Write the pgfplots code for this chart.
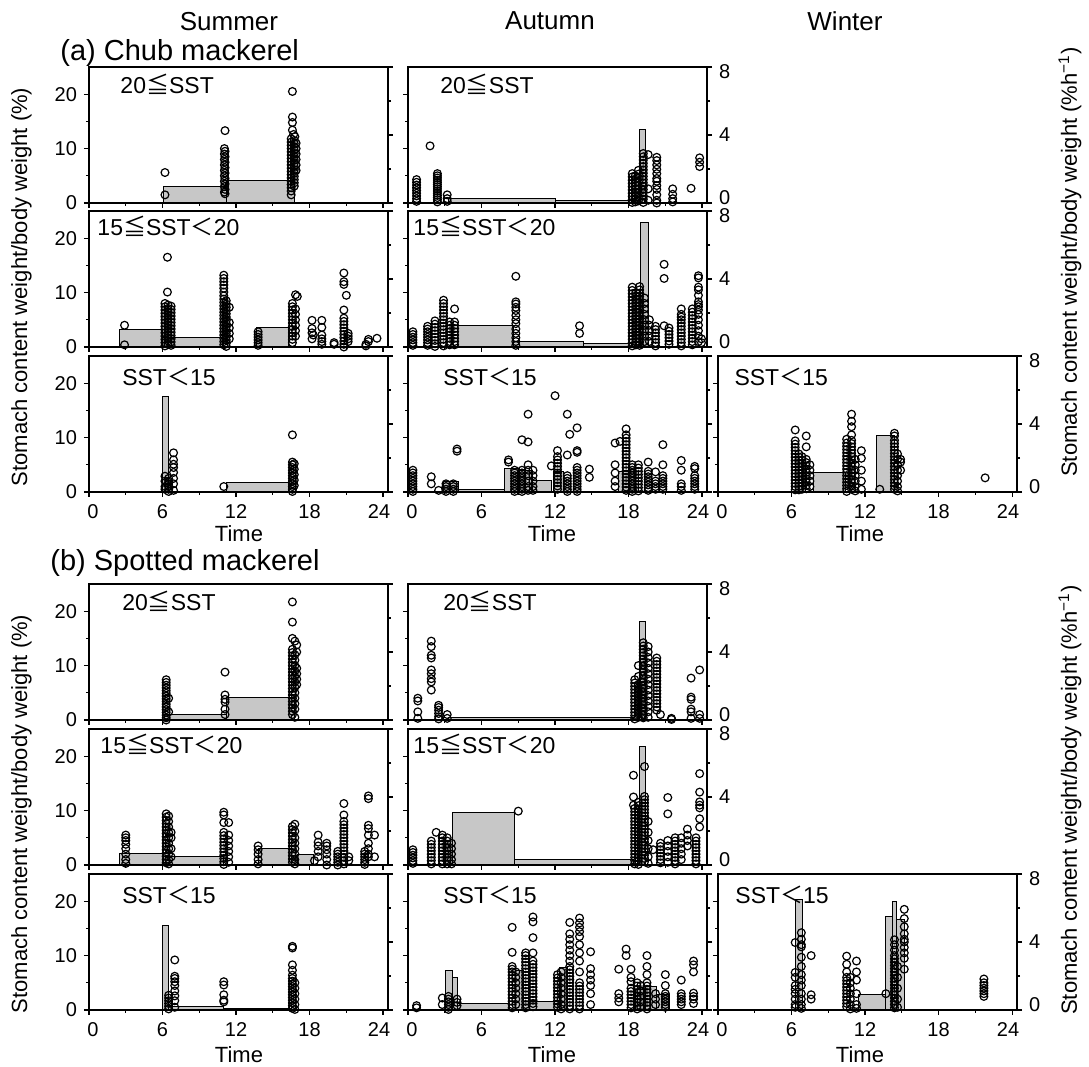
\documentclass[border=0pt]{standalone}
\usepackage{fontspec}
\setmainfont{Liberation Sans}
\newfontfamily\cjk{Noto Sans CJK JP}
\usepackage{pgfplots}
\pgfplotsset{compat=1.18}
\newcommand{\LE}{{\cjk ≦}}
\newcommand{\LT}{{\cjk ＜}}
\newcommand{\bbar}[3]{\addplot[barst] coordinates {(#1,0) (#1,#3) (#2,#3) (#2,0)} \closedcycle;}
\tikzset{plab/.style={anchor=west, font=\fontsize{11.5}{13}\selectfont, inner sep=0pt}}
\pgfplotsset{
  base/.style={anchor=south west, width=149.5pt, height=68pt, scale only axis,
    xmin=0, xmax=24.4, tick align=outside, major tick length=2.5pt, minor tick length=1.5pt,
    axis line style={line width=0.8pt}, every tick/.append style={line width=0.6pt, black},
    tick label style={font=\fontsize{10}{12}\selectfont},
    /pgf/number format/assume math mode=true,
    xtick={0,6,12,18,24}, minor xtick={3,9,15,21}},
  lax/.style={base, ymin=0, ymax=25, ytick={0,10,20}, minor ytick={5,15},
    xtick pos=left, ytick pos=left, clip=false, xticklabels={}, yticklabels={}},
  rax/.style={base, ymin=0, ymax=8, ytick={0,4,8}, minor ytick={2,6},
    hide x axis, axis y line*=right, yticklabels={}},
  pts/.style={only marks, mark=o, mark size=1.95pt, mark options={line width=0.6pt, black, solid}},
  barst/.style={draw=black, line width=0.5pt, fill=black!22},
  xl/.style={xticklabels={\hspace*{4pt}0,6,12,18,24\hspace*{4pt}}},
  yl/.style={yticklabels={0,10,20}},
  rl/.style={yticklabels={\raisebox{2.5pt}[\height][\depth]{0},4,\raisebox{-2.5pt}[\height][\depth]{8}}},
}
\begin{document}
\begin{tikzpicture}
\useasboundingbox (0,0) rectangle (544.5pt,533.5pt);
% ===== titles =====
\node[font=\fontsize{13}{15}\selectfont] at (114.5pt,522.5pt) {Summer};
\node[font=\fontsize{13}{15}\selectfont] at (275pt,523pt) {Autumn};
\node[font=\fontsize{13}{15}\selectfont] at (422.5pt,523pt) {Winter};
\node[anchor=west, inner sep=0pt, font=\fontsize{14.5}{17}\selectfont] at (30pt,507pt) {(a) Chub mackerel};
\node[anchor=west, inner sep=0pt, font=\fontsize{14.5}{17}\selectfont] at (25pt,252pt) {(b) Spotted mackerel};
\node[rotate=90, font=\fontsize{11}{13}\selectfont] at (10.75pt,390pt) {Stomach content weight/body weight (\%)};
\node[rotate=90, font=\fontsize{11}{13}\selectfont] at (10.75pt,126.5pt) {Stomach content weight/body weight (\%)};
\node[rotate=90, font=\fontsize{11}{13}\selectfont] at (535pt,402.5pt) {Stomach content weight/body weight (\%h\textsuperscript{−1})};
\node[rotate=90, font=\fontsize{11}{13}\selectfont] at (535pt,133.5pt) {Stomach content weight/body weight (\%h\textsuperscript{−1})};
\foreach \xx in {119.5pt,276pt,430pt}{
  \node[font=\fontsize{11}{13}\selectfont] at (\xx,266.5pt) {Time};
  \node[font=\fontsize{11}{13}\selectfont] at (\xx,6pt) {Time};
}

% ===================== (a) row 1 summer =====================
\begin{axis}[rax, at={(44.5pt,432pt)}]
\bbar{6.07}{11.24}{0.98} \bbar{11.24}{16.8}{1.31}
\end{axis}
\begin{axis}[lax, yl, at={(44.5pt,432pt)}]
\addplot[pts] coordinates {(6.2,5.6)(6.2,1.5)
(11.1,13.3)(11.05,10.0)(11.1,9.5)(11.05,9.0)(11.1,8.5)(11.05,8.0)(11.1,7.5)(11.05,7.0)(11.1,6.5)(11.05,6.0)(11.1,5.5)(11.05,5.0)(11.1,4.5)(11.05,4.0)(11.1,3.5)(11.05,3.0)(11.1,2.5)(11.05,2.0)(11.1,1.7)
(16.6,20.5)(16.6,15.8)(16.6,14.8)(16.6,13.4)(16.7,12.6)(16.8,12.2)
(16.5,11.8)(16.5,11.2)(16.5,10.6)(16.5,10.0)(16.5,9.4)(16.5,8.8)(16.5,8.2)(16.5,7.6)(16.5,7.0)(16.5,6.4)(16.5,5.8)(16.5,5.2)(16.5,4.6)(16.5,4.0)(16.5,3.4)(16.5,2.8)(16.5,2.2)(16.5,1.5)
(16.75,11.5)(16.75,10.9)(16.75,10.3)(16.75,9.7)(16.75,9.1)(16.75,8.5)(16.75,7.9)(16.75,7.3)(16.75,6.7)(16.75,6.1)(16.75,5.5)(16.75,4.9)(16.75,4.3)(16.75,3.7)(16.75,3.1)
(16.9,11.0)(16.9,10.0)(16.9,9.0)(16.9,8.0)(16.9,7.0)(16.9,6.0)};
\node[plab] at (rel axis cs:0.104,0.87) {20\LE SST};
\end{axis}

% ===================== (a) row 1 autumn =====================
\begin{axis}[rax, rl, at={(204pt,432pt)}]
\bbar{3.3}{12.0}{0.25} \bbar{12.0}{18.9}{0.15} \bbar{18.9}{19.4}{4.3}
\end{axis}
\begin{axis}[lax, at={(204pt,432pt)}]
\addplot[pts] coordinates {(0.7,4.3)(0.7,3.8)(0.7,3.3)(0.7,2.8)(0.7,2.3)(0.7,1.8)(0.7,1.3)(0.7,0.8)(0.7,0.3)
(1.8,10.5)
(2.4,5.4)(2.4,5.0)(2.4,4.6)(2.4,4.2)(2.4,3.8)(2.4,3.4)(2.4,3.0)(2.4,2.6)(2.4,2.2)(2.4,1.8)(2.4,1.4)(2.4,1.0)(2.4,0.6)(2.4,0.2)
(3.2,1.5)(3.2,0.8)(3.2,0.3)
(18.3,5.4)(18.3,4.8)(18.3,4.2)(18.3,3.6)(18.3,3.0)(18.3,2.4)(18.3,1.8)(18.3,1.2)(18.3,0.6)(18.3,0.1)
(18.55,5.0)(18.55,4.4)(18.55,3.8)(18.55,3.2)(18.55,2.6)(18.55,2.0)(18.55,1.4)(18.55,0.8)(18.55,0.2)
(18.8,6.0)(18.8,5.3)(18.8,4.6)(18.8,3.9)(18.8,3.2)(18.8,2.5)(18.8,1.8)(18.8,1.1)(18.8,0.4)
(19.2,9.1)(19.2,8.5)(19.2,7.9)(19.2,7.3)(19.2,6.7)(19.2,6.1)(19.2,5.5)(19.2,4.9)(19.2,4.3)(19.2,3.7)(19.2,3.1)(19.2,2.5)(19.2,1.9)(19.2,1.3)(19.2,0.7)(19.2,0.1)
(19.6,8.9)(19.6,2.6)(19.6,0.5)
(20.3,8.4)(20.3,7.8)(20.3,7.0)(20.3,6.2)(20.3,5.4)(20.3,4.5)(20.3,4.0)(20.3,3.2)(20.3,2.5)(20.3,1.5)(20.3,0.5)(20.3,0)
(21.6,2.6)(21.6,1.6)(21.6,0.8)(21.6,0.2)
(23.1,2.7)
(23.8,8.3)(23.8,7.5)(23.8,6.7)};
\node[plab] at (rel axis cs:0.107,0.87) {20\LE SST};
\end{axis}

% ===================== (a) row 2 summer =====================
\begin{axis}[rax, at={(44.5pt,360pt)}]
\bbar{2.5}{6.0}{1.03} \bbar{6.0}{10.9}{0.57} \bbar{13.7}{16.3}{1.13}
\end{axis}
\begin{axis}[lax, yl, at={(44.5pt,360pt)}]
\addplot[pts] coordinates {(2.9,4.0)(2.9,0.4)
(6.4,16.5)(6.4,10.1)
(6.2,8.0)(6.2,7.4)(6.2,6.8)(6.2,6.2)(6.2,5.6)(6.2,5.0)(6.2,4.4)(6.2,3.8)(6.2,3.2)(6.2,2.6)(6.2,2.0)(6.2,1.4)(6.2,0.8)(6.2,0.2)
(6.45,7.7)(6.45,7.1)(6.45,6.5)(6.45,5.9)(6.45,5.3)(6.45,4.7)(6.45,4.1)(6.45,3.5)(6.45,2.9)(6.45,2.3)(6.45,1.7)(6.45,1.1)(6.45,0.5)
(6.7,7.5)(6.7,6.9)(6.7,6.3)(6.7,5.7)(6.7,5.1)(6.7,4.5)(6.7,3.9)(6.7,3.3)(6.7,2.7)(6.7,2.1)(6.7,1.5)(6.7,0.9)(6.7,0.3)
(11.0,13.2)(11.0,12.6)(11.0,12.0)(11.0,11.4)(11.0,10.8)(11.0,10.1)(11.0,9.4)(11.0,8.8)(11.0,8.2)(11.0,7.6)(11.0,7.0)(11.0,6.4)(11.0,5.8)(11.0,5.2)(11.0,4.6)(11.0,4.0)(11.0,3.4)(11.0,2.8)(11.0,2.2)(11.0,1.6)(11.0,1.0)(11.0,0.4)
(11.2,8.5)(11.2,7.9)(11.2,7.3)(11.2,6.7)(11.2,6.1)(11.2,5.5)(11.2,4.9)(11.2,4.3)(11.2,3.7)(11.2,3.1)(11.2,2.5)(11.2,1.9)(11.2,1.3)(11.2,0.7)(11.2,0.1)
(11.45,7.3)(11.45,4.5)(11.45,3.5)(11.45,2.5)(11.45,1.5)
(13.8,2.8)(13.8,2.3)(13.8,1.8)(13.8,1.3)(13.8,0.8)(13.8,0.3)
(16.6,8.0)(16.6,7.4)(16.6,6.8)(16.6,6.2)(16.6,5.6)(16.6,5.0)(16.6,4.4)(16.6,3.8)(16.6,3.2)(16.6,2.6)(16.6,2.0)(16.6,1.4)(16.6,0.8)
(16.85,9.6)(17.0,9.3)(16.85,7.0)(16.85,6.0)(16.85,5.0)(16.85,4.0)(16.85,3.0)(16.85,2.0)
(18.2,4.9)(18.2,3.4)(18.2,2.6)(18.3,2.2)(18.2,1.5)
(19.0,4.9)(19.0,3.6)(19.0,2.2)(19.0,1.5)(19.0,1.0)(19.0,0.5)
(20.0,0.8)(20.0,0.5)
(20.8,13.6)(20.8,12.0)(20.8,11.5)(20.8,6.8)(20.8,5.3)(20.8,4.7)(20.8,4.1)(20.8,3.5)(20.8,2.9)(20.8,2.3)(20.8,1.7)(20.8,1.1)(20.8,0.5)(20.8,0)
(21.0,9.5)
(21.15,2.5)(21.15,2.0)(21.15,1.5)(21.15,1.0)
(22.6,0.5)(22.6,0.2)(22.8,1.4)(22.8,1.0)(23.5,1.6)};
\node[plab] at (rel axis cs:0.027,0.89) {15\LE SST\LT 20};
\end{axis}

% ===================== (a) row 2 autumn =====================
\begin{axis}[rax, rl, at={(204pt,360pt)}]
\bbar{4.0}{8.6}{1.28} \bbar{8.6}{14.3}{0.32} \bbar{14.3}{18.2}{0.2} \bbar{19.0}{19.6}{7.3}
\end{axis}
\begin{axis}[lax, at={(204pt,360pt)}]
\addplot[pts] coordinates {(0.4,2.8)(0.4,2.3)(0.4,1.8)(0.4,1.3)(0.4,0.8)(0.4,0.3)
(1.6,3.8)(1.6,3.3)(1.6,2.8)(1.6,2.3)(1.6,1.8)(1.6,1.3)(1.6,0.8)(1.6,0.3)
(2.2,4.8)(2.2,4.2)(2.2,3.6)(2.2,3.0)(2.2,2.4)(2.2,1.8)(2.2,1.2)(2.2,0.6)(2.2,0.1)
(2.9,8.6)(2.9,8.0)(2.9,7.4)(2.9,6.8)(2.9,6.2)(2.9,5.6)(2.9,5.0)(2.9,4.4)(2.9,3.8)(2.9,3.2)(2.9,2.6)(2.9,2.0)(2.9,1.4)(2.9,0.8)(2.9,0.2)
(3.4,4.6)(3.4,4.0)(3.4,3.4)(3.4,2.8)(3.4,2.2)(3.4,1.6)(3.4,1.0)(3.4,0.4)
(3.8,7.0)(3.8,4.6)(3.8,4.0)(3.8,3.4)(3.8,2.8)(3.8,2.2)(3.8,1.6)(3.8,1.0)(3.8,0.4)
(8.8,13.0)(8.8,8.3)(8.8,7.9)(8.8,7.3)(8.8,6.7)(8.8,5.8)(8.8,5.0)(8.8,4.3)(8.8,3.3)(8.8,2.5)(8.8,1.7)(8.8,1.0)(8.8,0.3)
(14.0,3.9)(14.0,2.5)
(18.3,11.0)(18.3,10.4)(18.3,9.8)(18.3,9.2)(18.3,8.6)(18.3,8.0)(18.3,7.4)(18.3,6.8)(18.3,6.2)(18.3,5.6)(18.3,5.0)(18.3,4.4)(18.3,3.8)(18.3,3.2)(18.3,2.6)(18.3,2.0)(18.3,1.4)(18.3,0.8)(18.3,0.2)
(18.6,10.0)(18.6,9.4)(18.6,8.8)(18.6,8.2)(18.6,7.6)(18.6,7.0)(18.6,6.4)(18.6,5.8)(18.6,5.2)(18.6,4.6)(18.6,4.0)(18.6,3.4)(18.6,2.8)(18.6,2.2)(18.6,1.6)(18.6,1.0)(18.6,0.4)
(18.9,11.1)(18.9,10.5)(18.9,9.9)(18.9,9.3)(18.9,8.7)(18.9,8.1)(18.9,7.5)(18.9,6.9)(18.9,6.3)(18.9,5.7)(18.9,5.1)(18.9,4.5)(18.9,3.9)(18.9,3.3)(18.9,2.7)(18.9,2.1)(18.9,1.5)(18.9,0.9)(18.9,0.3)
(19.3,9.0)(19.3,8.0)(19.3,7.0)(19.3,6.0)(19.3,5.0)(19.3,4.0)(19.3,3.0)(19.3,2.0)(19.3,1.0)
(19.7,5.0)(19.7,4.0)(19.7,3.0)(19.7,2.0)(19.7,1.0)
(20.2,3.8)(20.2,3.2)(20.2,2.6)(20.2,2.0)(20.2,1.4)(20.2,0.8)(20.2,0.2)
(20.9,15.2)(20.9,12.6)(20.9,3.9)
(21.3,3.5)(21.3,2.9)(21.3,2.3)(21.3,1.7)(21.3,1.1)(21.3,0.5)
(22.3,7.0)(22.3,6.0)(22.3,5.5)(22.3,5.0)(22.3,4.4)(22.3,3.8)(22.3,3.2)(22.3,2.6)(22.3,2.0)(22.3,1.4)(22.3,0.8)(22.3,0.2)
(23.2,7.0)(23.2,6.4)(23.2,5.8)(23.2,5.2)(23.2,4.6)(23.2,4.0)(23.2,3.4)(23.2,2.8)(23.2,2.2)(23.2,1.6)(23.2,1.0)(23.2,0.4)
(23.7,13.1)(23.7,12.7)(23.7,11.0)(23.7,10.5)(23.7,9.5)(23.7,8.3)(23.7,7.8)(23.7,7.4)(23.7,6.8)(23.7,6.0)(23.7,5.0)(23.7,4.0)(23.7,3.0)(23.7,2.0)(23.7,1.0)
(23.95,1.5)(23.95,0.8)};
\node[plab] at (rel axis cs:0.017,0.89) {15\LE SST\LT 20};
\end{axis}

% ===================== (a) row 3 summer =====================
\begin{axis}[rax, at={(44.5pt,287.5pt)}]
\bbar{6.0}{6.5}{5.6} \bbar{11.2}{16.3}{0.57}
\end{axis}
\begin{axis}[lax, yl, xl, at={(44.5pt,287.5pt)}]
\addplot[pts] coordinates {(6.2,2.9)(6.2,2.0)(6.2,1.0)(6.2,0.5)
(6.5,2.5)(6.5,2.0)(6.5,1.5)(6.5,1.0)(6.5,0.5)(6.5,0.1)
(6.9,7.2)(6.9,5.9)(6.9,5.1)(6.9,4.5)(6.9,3.6)(6.9,2.5)(6.9,1.5)(6.9,0.3)
(11.0,1.0)
(16.6,10.5)(16.6,5.5)(16.6,5.0)(16.6,4.5)(16.6,4.0)(16.6,3.5)(16.6,3.0)(16.6,2.5)(16.6,2.0)(16.6,1.5)(16.6,1.0)(16.6,0.5)(16.6,0.1)
(16.75,5.2)(16.75,4.2)(16.75,3.2)(16.75,2.2)(16.75,1.2)};
\node[plab] at (rel axis cs:0.11,0.85) {SST\LT 15};
\end{axis}

% ===================== (a) row 3 autumn =====================
\begin{axis}[rax, at={(204pt,287.5pt)}]
\bbar{2.9}{4.1}{0.6} \bbar{4.1}{7.9}{0.14} \bbar{7.9}{9.1}{1.38} \bbar{9.1}{10.2}{1.28}
\bbar{10.2}{11.7}{0.7} \bbar{11.9}{12.7}{1.2} \bbar{17.2}{18.8}{1.2}
\end{axis}
\begin{axis}[lax, xl, at={(204pt,287.5pt)}]
\addplot[pts] coordinates {(0.4,4.0)(0.4,3.5)(0.4,3.0)(0.4,2.5)(0.4,2.0)(0.4,1.5)(0.4,1.0)(0.4,0.5)(0.4,0.1)
(1.9,2.8)(1.9,1.5)(2.5,0.3)
(3.1,1.5)(3.1,1.0)(3.1,0.5)(3.1,0.1)
(3.7,1.5)(3.7,1.0)(3.7,0.5)(3.7,0.1)
(4.0,7.9)(4.0,7.5)
(8.2,5.9)(8.2,5.5)
(8.7,4.0)(8.7,3.5)(8.7,3.0)(8.7,2.5)(8.7,2.0)(8.7,1.5)(8.7,1.0)(8.7,0.5)(8.7,0.1)
(9.3,9.6)(9.3,4.0)(9.3,3.5)(9.3,3.0)(9.3,2.5)(9.3,2.0)(9.3,1.5)(9.3,1.0)(9.3,0.5)(9.3,0.1)
(9.8,14.3)(9.8,9.2)(9.8,5.0)(9.8,4.0)(9.8,3.0)(9.8,2.0)(9.8,1.0)(9.8,0.3)
(10.2,4.0)(10.2,3.0)(10.2,2.0)(10.2,1.0)(10.2,0.3)
(11.7,4.8)
(12.0,17.7)
(12.2,7.6)(12.2,6.5)(12.2,5.9)(12.2,5.3)(12.2,4.7)(12.2,4.1)(12.2,3.5)(12.2,2.9)(12.2,2.3)(12.2,1.7)(12.2,1.1)(12.2,0.5)
(13.0,14.3)(13.2,10.6)(13.0,6.8)(13.0,3.0)(13.0,2.5)(13.0,2.0)(13.0,1.5)(13.0,1.0)(13.0,0.5)(13.0,0.1)
(13.8,11.8)(13.8,7.6)(13.8,7.3)(13.8,4.5)(13.8,4.0)(13.8,3.5)(13.8,3.0)(13.8,2.5)(13.8,2.0)(13.8,1.5)(13.8,1.0)(13.8,0.5)(13.8,0.1)
(14.8,4.2)(14.8,2.7)
(16.9,9.0)(16.9,5.0)(16.9,3.5)(16.9,2.0)(16.9,1.0)
(17.3,9.3)
(17.8,11.6)(17.8,10.5)(17.8,9.9)(17.8,9.3)(17.8,8.7)(17.8,8.1)(17.8,7.5)(17.8,6.9)(17.8,6.3)(17.8,5.7)(17.8,5.1)(17.8,4.5)(17.8,3.9)(17.8,3.3)(17.8,2.7)(17.8,2.1)(17.8,1.5)(17.8,0.9)(17.8,0.3)
(18.3,5.0)(18.3,4.5)(18.3,4.0)(18.3,3.5)(18.3,3.0)(18.3,2.5)(18.3,2.0)(18.3,1.5)(18.3,1.0)(18.3,0.5)(18.3,0.1)
(18.8,5.0)(18.8,4.4)(18.8,3.8)(18.8,3.2)(18.8,2.6)(18.8,2.0)(18.8,1.4)(18.8,0.8)(18.8,0.2)
(19.6,5.5)(19.6,3.8)(19.6,3.3)(19.6,2.8)(19.6,2.3)(19.6,1.8)(19.6,1.3)(19.6,0.8)(19.6,0.3)
(20.2,3.7)(20.2,2.0)(20.2,1.5)(20.2,1.0)(20.2,0.5)
(20.8,8.7)(20.8,5.0)(20.8,3.0)(20.8,2.5)(20.8,2.0)(20.8,1.5)(20.8,1.0)(20.8,0.5)
(22.3,5.8)(22.3,4.0)(22.3,1.5)(22.3,1.0)(22.3,0.3)
(23.4,4.7)(23.4,4.3)(23.4,3.0)(23.4,2.5)(23.4,2.0)(23.4,1.5)(23.4,1.0)(23.4,0.5)};
\node[plab] at (rel axis cs:0.117,0.85) {SST\LT 15};
\end{axis}

% ===================== (a) row 3 winter =====================
\begin{axis}[rax, rl, at={(359pt,287.5pt)}]
\bbar{7.8}{10.4}{1.13} \bbar{12.9}{14.4}{3.34}
\end{axis}
\begin{axis}[lax, xl, at={(359pt,287.5pt)}]
\addplot[pts] coordinates {(6.3,11.4)(6.3,9.4)(6.3,8.8)(6.3,8.2)(6.3,7.6)(6.3,7.0)(6.3,6.4)(6.3,5.8)(6.3,5.2)(6.3,4.6)(6.3,4.0)(6.3,3.4)(6.3,2.8)(6.3,2.2)(6.3,1.6)(6.3,1.0)(6.3,0.4)
(6.6,7.0)(6.6,6.4)(6.6,5.8)(6.6,5.2)(6.6,4.6)(6.6,4.0)(6.6,3.4)(6.6,2.8)(6.6,2.2)(6.6,1.6)(6.6,1.0)(6.6,0.4)
(6.85,6.5)(6.85,5.9)(6.85,5.3)(6.85,4.7)(6.85,4.1)(6.85,3.5)(6.85,2.9)(6.85,2.3)(6.85,1.7)(6.85,1.1)(6.85,0.5)
(7.2,10.3)(7.2,8.3)(7.2,6.0)(7.2,5.4)(7.2,4.8)(7.2,4.2)(7.2,3.6)(7.2,3.0)(7.2,2.4)(7.2,1.8)(7.2,1.2)(7.2,0.6)
(7.5,5.0)(7.5,4.0)(7.5,3.0)(7.5,2.0)(7.5,1.0)
(10.5,9.7)(10.5,9.0)(10.5,8.4)(10.5,7.8)(10.5,7.2)(10.5,6.6)(10.5,6.0)(10.5,5.4)(10.5,4.8)(10.5,4.2)(10.5,3.6)(10.5,3.0)(10.5,2.4)(10.5,1.8)(10.5,1.2)(10.5,0.6)(10.5,0.1)
(10.9,14.3)(10.9,13.0)(10.9,12.0)(10.9,10.5)(10.9,9.5)(10.9,8.9)(10.9,8.3)(10.9,7.7)(10.9,7.1)(10.9,6.5)(10.9,5.9)(10.9,5.3)(10.9,4.7)(10.9,4.1)(10.9,3.5)(10.9,2.9)(10.9,2.3)(10.9,1.7)(10.9,1.1)(10.9,0.5)
(11.2,6.0)(11.2,5.0)(11.2,4.0)(11.2,3.0)(11.2,2.0)(11.2,1.0)(11.2,0.2)
(11.7,7.6)(11.7,6.2)(11.7,4.0)(11.7,2.0)(11.7,0.5)
(13.2,0.5)
(14.4,10.8)(14.4,10.3)(14.4,9.5)(14.4,8.9)(14.4,8.3)(14.4,7.7)(14.4,7.1)(14.4,6.5)(14.4,5.9)(14.4,5.3)(14.4,4.7)(14.4,4.1)(14.4,3.5)(14.4,2.9)(14.4,2.3)(14.4,1.7)(14.4,1.1)(14.4,0.5)
(14.65,7.0)(14.65,6.0)(14.65,5.0)(14.65,4.0)(14.65,3.0)(14.65,2.0)(14.65,1.0)(14.65,0.2)
(14.9,6.0)(14.9,5.5)(14.9,4.0)
(21.8,2.6)};
\node[plab] at (rel axis cs:0.054,0.85) {SST\LT 15};
\end{axis}

% ===================== (b) row 1 summer =====================
\begin{axis}[rax, at={(44.5pt,173.5pt)}]
\bbar{6.2}{11.2}{0.31} \bbar{11.2}{16.8}{1.35}
\end{axis}
\begin{axis}[lax, yl, at={(44.5pt,173.5pt)}]
\addplot[pts] coordinates {(6.3,7.4)(6.3,6.9)(6.3,6.4)(6.3,5.9)(6.3,5.4)(6.3,4.9)(6.3,4.4)(6.3,3.9)(6.3,3.4)(6.3,2.9)(6.3,2.4)(6.3,1.9)(6.3,1.4)(6.3,0.9)(6.3,0.4)(6.3,0)
(6.5,4.0)(6.5,1.5)
(11.1,8.8)(11.1,4.6)(11.1,3.8)(11.1,3.3)(11.1,2.0)(11.1,1.0)
(16.6,21.7)(16.6,18.0)(16.6,15.0)(16.6,13.0)(16.6,12.4)(16.6,11.8)(16.6,11.2)(16.6,10.6)(16.6,10.0)(16.6,9.4)(16.6,8.8)(16.6,8.2)(16.6,7.6)(16.6,7.0)(16.6,6.4)(16.6,5.8)(16.6,5.2)(16.6,4.6)(16.6,4.0)(16.6,3.4)(16.6,2.8)(16.6,2.2)(16.6,1.6)(16.6,1.0)
(16.8,14.5)(16.8,12.0)(16.8,11.0)(16.8,10.0)(16.8,9.0)(16.8,8.0)(16.8,7.0)(16.8,6.0)(16.8,5.0)(16.8,4.0)(16.8,3.0)(16.8,2.0)(16.8,0.5)
(16.95,13.8)(16.95,12.5)(16.95,9.5)(16.95,8.5)(16.95,7.5)(16.95,6.5)};
\node[plab] at (rel axis cs:0.11,0.87) {20\LE SST};
\end{axis}

% ===================== (b) row 1 autumn =====================
\begin{axis}[rax, rl, at={(204pt,173.5pt)}]
\bbar{3.3}{18.4}{0.16} \bbar{18.9}{19.4}{5.8}
\end{axis}
\begin{axis}[lax, at={(204pt,173.5pt)}]
\addplot[pts] coordinates {(0.8,4.0)(0.8,3.5)(0.8,1.5)(0.8,0.3)
(1.9,14.5)(1.9,13.5)(1.9,11.9)(1.9,11.4)(1.9,9.2)(1.9,8.5)(1.9,7.6)(1.9,7.0)(1.9,5.5)
(2.5,2.7)(2.5,2.3)(2.5,1.8)(2.5,1.2)(2.5,0.6)(2.5,0.2)
(3.2,1.0)(3.2,0.3)
(18.5,7.4)(18.5,6.8)(18.5,6.2)(18.5,5.6)(18.5,5.0)(18.5,4.4)(18.5,3.8)(18.5,3.2)(18.5,2.6)(18.5,2.0)(18.5,1.4)(18.5,0.8)(18.5,0.2)
(18.8,10.0)(18.8,8.0)(18.8,6.5)(18.8,5.9)(18.8,5.3)(18.8,4.7)(18.8,4.1)(18.8,3.5)(18.8,2.9)(18.8,2.3)(18.8,1.7)(18.8,1.1)(18.8,0.5)
(19.2,14.2)(19.2,13.6)(19.2,13.0)(19.2,12.4)(19.2,11.8)(19.2,11.2)(19.2,10.6)(19.2,10.0)(19.2,9.4)(19.2,8.8)(19.2,8.2)(19.2,7.6)(19.2,7.0)(19.2,6.4)(19.2,5.8)(19.2,5.2)(19.2,4.6)(19.2,4.0)(19.2,3.4)(19.2,2.8)(19.2,2.2)(19.2,1.6)(19.2,1.0)(19.2,0.4)
(19.6,13.5)(19.6,12.5)(19.6,11.5)(19.6,10.5)(19.6,9.5)(19.6,8.5)(19.6,7.5)(19.6,6.5)(19.6,5.5)(19.6,4.5)(19.6,3.5)(19.6,2.5)(19.6,1.5)(19.6,0.5)
(20.3,11.4)(20.3,10.8)(20.3,10.2)(20.3,9.6)(20.3,9.0)(20.3,8.4)(20.3,7.8)(20.3,7.2)(20.3,6.6)(20.3,6.0)(20.3,5.4)(20.3,4.8)(20.3,4.2)(20.3,3.6)(20.3,3.0)(20.3,2.4)(20.3,1.8)
(20.6,1.0)
(21.5,0.3)(21.5,0.1)
(23.1,7.7)(23.1,4.2)(23.1,3.8)(23.1,2.0)(23.1,1.5)(23.1,0.3)
(23.8,9.2)(23.8,1.0)(23.8,0.3)};
\node[plab] at (rel axis cs:0.117,0.87) {20\LE SST};
\end{axis}

% ===================== (b) row 2 summer =====================
\begin{axis}[rax, at={(44.5pt,101pt)}]
\bbar{2.5}{6.1}{0.67} \bbar{6.1}{11.0}{0.51} \bbar{13.8}{16.5}{0.97} \bbar{17.0}{18.3}{0.6}
\end{axis}
\begin{axis}[lax, yl, at={(44.5pt,101pt)}]
\addplot[pts] coordinates {(3.0,5.5)(3.0,5.0)(3.0,4.5)(3.0,3.8)(3.0,3.0)(3.0,2.0)(3.0,1.0)(3.0,0.3)
(6.3,9.4)(6.3,8.8)(6.3,8.2)(6.3,7.6)(6.3,7.0)(6.3,6.4)(6.3,5.8)(6.3,5.2)(6.3,4.6)(6.3,4.0)(6.3,3.4)(6.3,2.8)(6.3,2.2)(6.3,1.6)(6.3,1.0)(6.3,0.4)
(6.5,9.0)(6.5,8.0)(6.5,7.0)(6.5,6.0)(6.5,5.0)(6.5,4.0)(6.5,3.0)(6.5,2.0)(6.5,1.0)(6.5,0.2)
(6.7,6.0)(6.7,5.0)(6.7,3.0)(6.7,1.5)
(11.0,9.7)(11.0,9.2)(11.0,7.8)(11.0,6.0)(11.0,5.4)(11.0,4.8)(11.0,4.2)(11.0,3.6)(11.0,3.0)(11.0,2.4)(11.0,1.8)(11.0,1.2)(11.0,0.6)(11.0,0.1)
(11.4,7.8)(11.4,5.5)(11.4,4.5)(11.4,3.5)(11.4,2.5)(11.4,1.5)(11.4,0.5)
(13.8,3.5)(13.8,2.8)(13.8,2.0)(13.8,1.0)(13.8,0.2)
(16.6,7.1)(16.6,6.5)(16.6,5.9)(16.6,5.3)(16.6,4.7)(16.6,4.1)(16.6,3.5)(16.6,2.9)(16.6,2.3)(16.6,1.7)(16.6,1.1)(16.6,0.5)
(16.8,7.5)(16.8,6.2)(16.8,5.0)(16.8,4.0)(16.8,3.0)(16.8,2.0)(16.8,1.0)(16.8,0.2)
(18.4,0.8)
(18.7,5.5)(18.7,4.2)(18.7,3.5)(18.7,2.5)(18.7,1.5)
(19.4,4.0)(19.4,3.5)(19.4,2.8)(19.4,2.0)(19.4,1.0)(19.4,0)
(20.3,2.5)(20.3,2.0)(20.3,1.5)(20.3,1.0)(20.3,0.5)(20.3,0)
(20.8,11.3)(20.8,9.2)(20.8,8.0)(20.8,7.4)(20.8,6.8)(20.8,6.2)(20.8,5.6)(20.8,5.0)(20.8,4.4)(20.8,3.8)(20.8,3.2)(20.8,2.6)(20.8,2.0)(20.8,1.4)(20.8,0.8)(20.8,0.2)
(21.2,1.5)(21.2,0.8)
(22.5,2.5)(22.5,2.0)(22.5,1.5)(22.5,1.0)(22.5,0.5)(22.5,0.1)
(22.8,12.7)(22.8,12.2)(22.8,7.3)(22.8,6.7)(22.8,5.5)(22.8,4.0)(22.8,3.0)(22.8,2.0)(22.8,1.5)
(23.3,5.5)(23.3,1.5)};
\node[plab] at (rel axis cs:0.037,0.89) {15\LE SST\LT 20};
\end{axis}

% ===================== (b) row 2 autumn =====================
\begin{axis}[rax, rl, at={(204pt,101pt)}]
\bbar{3.6}{8.7}{3.06} \bbar{8.7}{18.4}{0.34} \bbar{18.9}{19.4}{6.97}
\end{axis}
\begin{axis}[lax, at={(204pt,101pt)}]
\addplot[pts] coordinates {(0.4,2.8)(0.4,2.3)(0.4,1.8)(0.4,1.3)(0.4,0.8)(0.4,0.3)
(1.9,4.4)(1.9,3.8)(1.9,3.2)(1.9,2.6)(1.9,2.0)(1.9,1.4)(1.9,0.8)(1.9,0.2)
(2.3,6.0)
(2.8,5.5)(2.8,5.0)(2.8,4.4)(2.8,3.8)(2.8,3.2)(2.8,2.6)(2.8,2.0)(2.8,1.4)(2.8,0.8)(2.8,0.2)
(3.2,5.0)(3.2,4.4)(3.2,3.8)(3.2,3.2)(3.2,2.6)(3.2,2.0)(3.2,1.4)(3.2,0.8)(3.2,0.2)
(3.55,4.0)(3.55,3.0)(3.55,2.0)(3.55,1.0)(3.55,0.2)
(9.0,9.9)
(18.4,16.5)(18.4,12.5)(18.4,11.0)
(18.5,10.4)(18.5,9.8)(18.5,9.2)(18.5,8.6)(18.5,8.0)(18.5,7.4)(18.5,6.8)(18.5,6.2)(18.5,5.6)(18.5,5.0)(18.5,4.4)(18.5,3.8)(18.5,3.2)(18.5,2.6)(18.5,2.0)(18.5,1.4)(18.5,0.8)(18.5,0.2)
(18.8,11.5)(18.8,10.9)(18.8,10.3)(18.8,9.7)(18.8,9.1)(18.8,8.5)(18.8,7.9)(18.8,7.3)(18.8,6.7)(18.8,6.1)(18.8,5.5)(18.8,4.9)(18.8,4.3)(18.8,3.7)(18.8,3.1)(18.8,2.5)(18.8,1.9)(18.8,1.3)(18.8,0.7)(18.8,0.1)
(19.3,18.1)(19.3,12.6)(19.3,12.0)(19.3,11.4)(19.3,10.8)(19.3,10.2)(19.3,9.6)(19.3,9.0)(19.3,8.4)(19.3,7.8)(19.3,7.2)(19.3,6.6)(19.3,6.0)(19.3,5.4)(19.3,4.8)(19.3,4.2)(19.3,3.6)(19.3,3.0)(19.3,2.4)(19.3,1.8)(19.3,1.2)(19.3,0.6)
(19.6,8.0)(19.6,6.0)(19.6,4.5)(19.6,3.0)(19.6,1.5)(19.6,0.3)
(20.0,2.8)
(20.6,4.0)(20.6,3.4)(20.6,2.8)(20.6,2.2)(20.6,1.6)(20.6,1.0)(20.6,0.4)
(21.2,12.4)(21.2,9.4)(21.2,4.5)(21.2,3.5)(21.2,2.5)(21.2,1.5)(21.2,0.5)
(21.8,5.0)(21.8,4.4)(21.8,3.8)(21.8,3.2)(21.8,2.6)(21.8,2.0)(21.8,1.4)(21.8,0.8)(21.8,0.2)
(22.3,5.0)(22.3,4.0)(22.3,3.0)(22.3,2.0)(22.3,1.0)
(22.8,6.6)(22.8,5.5)(22.8,4.5)(22.8,3.5)
(23.5,5.0)(23.5,4.4)(23.5,3.8)(23.5,3.2)(23.5,2.6)(23.5,2.0)(23.5,1.4)(23.5,0.8)(23.5,0.2)
(23.8,16.8)(23.8,13.4)(23.8,11.6)(23.8,11.0)(23.8,10.5)(23.8,8.5)(23.8,7.0)};
\node[plab] at (rel axis cs:0.017,0.89) {15\LE SST\LT 20};
\end{axis}

% ===================== (b) row 3 summer =====================
\begin{axis}[rax, at={(44.5pt,28.5pt)}]
\bbar{6.0}{6.5}{4.96} \bbar{6.5}{11.0}{0.2} \bbar{11.0}{16.5}{0.1}
\end{axis}
\begin{axis}[lax, yl, xl, at={(44.5pt,28.5pt)}]
\addplot[pts] coordinates {(6.5,2.7)(6.5,2.2)(6.5,1.7)(6.5,1.2)(6.5,0.7)(6.5,0.2)
(7.0,9.2)(7.0,6.2)(7.0,5.8)(7.0,5.2)(7.0,4.5)(7.0,3.5)(7.0,2.6)(7.0,1.7)(7.0,0.5)
(11.0,5.2)(11.0,4.6)(11.0,2.8)(11.0,1.8)(11.0,1.5)
(16.6,11.7)(16.6,11.4)(16.6,8.3)(16.6,7.3)(16.6,6.4)(16.6,5.8)(16.6,5.3)(16.6,4.8)(16.6,4.3)(16.6,3.8)(16.6,3.3)(16.6,2.8)(16.6,2.3)(16.6,1.8)(16.6,1.3)(16.6,0.8)(16.6,0.3)
(16.8,5.0)(16.8,4.0)(16.8,3.0)(16.8,2.0)(16.8,1.0)(16.8,0.1)};
\node[plab] at (rel axis cs:0.11,0.85) {SST\LT 15};
\end{axis}

% ===================== (b) row 3 autumn =====================
\begin{axis}[rax, at={(204pt,28.5pt)}]
\bbar{3.1}{3.6}{2.3} \bbar{3.6}{4.0}{1.9} \bbar{4.0}{8.3}{0.37} \bbar{8.8}{9.4}{2.35}
\bbar{9.4}{12.4}{0.5} \bbar{12.4}{13.0}{2.5} \bbar{18.6}{19.4}{1.2} \bbar{19.4}{20.3}{1.4} \bbar{20.3}{21.3}{0.9}
\end{axis}
\begin{axis}[lax, xl, at={(204pt,28.5pt)}]
\addplot[pts] coordinates {(0.7,0.8)(0.7,0.4)
(2.8,2.2)(2.8,1.0)
(3.3,2.5)(3.3,2.0)(3.3,1.5)(3.3,1.0)(3.3,0.5)(3.3,0.1)
(4.0,2.0)(4.0,1.4)(4.0,0.8)
(8.5,15.2)(8.5,10.6)(8.5,8.0)(8.5,7.5)(8.5,7.0)(8.5,6.4)(8.5,5.8)(8.5,5.2)(8.5,4.6)(8.5,4.0)(8.5,3.4)(8.5,2.8)(8.5,2.2)(8.5,1.6)(8.5,1.0)(8.5,0.4)
(8.8,7.0)(8.8,6.0)(8.8,5.0)(8.8,4.0)(8.8,3.0)(8.8,2.0)(8.8,1.0)
(9.6,10.5)(9.6,10.0)(9.6,9.4)(9.6,8.8)(9.6,8.2)(9.6,7.6)(9.6,7.0)(9.6,6.4)(9.6,5.8)(9.6,5.2)(9.6,4.6)(9.6,4.0)(9.6,3.4)(9.6,2.8)(9.6,2.2)(9.6,1.6)(9.6,1.0)(9.6,0.4)
(10.2,17.1)(10.2,16.2)(10.2,13.3)(10.2,10.5)(10.2,9.0)(10.2,8.4)(10.2,7.8)(10.2,7.2)(10.2,6.6)(10.2,6.0)(10.2,5.4)(10.2,4.8)(10.2,4.2)(10.2,3.6)(10.2,3.0)(10.2,2.4)(10.2,1.8)(10.2,1.2)(10.2,0.6)
(12.2,6.5)(12.2,5.9)(12.2,5.3)(12.2,4.7)(12.2,4.1)(12.2,3.5)(12.2,2.9)(12.2,2.3)(12.2,1.7)(12.2,1.1)(12.2,0.5)
(12.5,7.0)(12.5,6.0)(12.5,5.0)(12.5,4.0)(12.5,3.0)(12.5,2.0)(12.5,1.0)(12.5,0.2)
(13.2,16.1)(13.2,14.0)(13.2,13.0)(13.2,12.0)(13.2,11.0)(13.2,10.0)(13.2,9.0)(13.2,8.0)(13.2,7.4)(13.2,6.8)(13.2,6.2)(13.2,5.6)(13.2,5.0)(13.2,4.4)(13.2,3.8)(13.2,3.2)(13.2,2.6)(13.2,2.0)(13.2,1.4)(13.2,0.8)(13.2,0.2)
(14.0,16.9)(14.0,16.0)(14.0,15.2)(14.0,14.4)(14.0,13.5)(14.0,12.0)(14.0,10.5)(14.0,9.0)(14.0,7.0)(14.0,5.0)(14.0,4.4)(14.0,3.8)(14.0,3.2)(14.0,2.6)(14.0,2.0)(14.0,1.4)(14.0,0.8)(14.0,0.2)
(14.9,10.7)(14.9,7.6)(14.9,6.5)(14.9,5.5)(14.9,4.5)(14.9,3.0)(14.9,1.0)
(17.2,7.5)(17.2,3.0)(17.2,2.2)(17.2,1.5)
(17.8,11.2)(17.8,10.0)
(18.2,7.5)(18.2,6.0)(18.2,5.2)(18.2,4.0)(18.2,3.4)(18.2,2.8)(18.2,2.2)(18.2,1.6)(18.2,1.0)(18.2,0.4)
(18.7,5.0)(18.7,4.4)(18.7,3.8)(18.7,3.2)(18.7,2.6)(18.7,2.0)(18.7,1.4)(18.7,0.8)(18.7,0.2)
(19.0,4.5)(19.0,3.5)(19.0,2.5)(19.0,1.5)(19.0,0.5)
(19.5,10.0)(19.5,8.0)(19.5,6.5)(19.5,5.0)(19.5,4.4)(19.5,3.8)(19.5,3.2)(19.5,2.6)(19.5,2.0)(19.5,1.4)(19.5,0.8)(19.5,0.2)
(20.2,3.0)(20.2,2.0)(20.2,1.0)
(21.0,6.5)(21.0,4.5)(21.0,3.0)(21.0,2.5)(21.0,2.0)(21.0,1.5)(21.0,1.0)(21.0,0.5)
(22.3,5.5)(22.3,3.0)(22.3,2.5)(22.3,2.0)(22.3,1.5)(22.3,1.0)
(23.3,9.0)(23.3,8.3)(23.3,7.0)(23.3,3.1)(23.3,2.5)(23.3,2.0)(23.3,1.2)};
\node[plab] at (rel axis cs:0.117,0.85) {SST\LT 15};
\end{axis}

% ===================== (b) row 3 winter =====================
\begin{axis}[rax, rl, at={(359pt,28.5pt)}]
\bbar{6.33}{6.88}{6.5} \bbar{11.5}{13.7}{0.94} \bbar{13.7}{14.2}{5.5} \bbar{14.2}{14.6}{6.4} \bbar{14.6}{15.2}{5.35}
\end{axis}
\begin{axis}[lax, xl, at={(359pt,28.5pt)}]
\addplot[pts] coordinates {(6.3,12.4)(6.3,6.9)(6.3,6.0)(6.3,4.5)(6.3,3.8)(6.3,3.0)(6.3,2.0)(6.3,1.0)(6.3,0.5)
(6.8,14.2)(6.8,13.0)(6.8,12.0)(6.8,11.6)(6.8,9.7)(6.8,8.0)(6.8,6.5)(6.8,5.5)(6.8,4.5)(6.8,3.0)(6.8,2.0)(6.8,1.0)(6.8,0.3)
(7.6,10.0)(7.6,2.8)(7.6,2.0)
(10.5,9.9)(10.5,8.4)(10.5,7.0)(10.5,6.0)(10.5,5.4)(10.5,4.8)(10.5,4.2)(10.5,3.6)(10.5,3.0)(10.5,2.4)(10.5,1.8)(10.5,1.2)(10.5,0.6)
(10.8,6.0)(10.8,5.0)(10.8,4.0)(10.8,3.0)(10.8,2.0)(10.8,1.0)(10.8,0.2)
(11.3,9.0)(11.3,7.0)(11.3,5.5)(11.3,3.0)(11.3,1.0)(11.3,0.3)
(13.7,3.0)
(14.4,12.9)(14.4,12.0)(14.4,11.0)(14.4,10.0)(14.4,9.4)(14.4,8.8)(14.4,8.2)(14.4,7.6)(14.4,7.0)(14.4,6.4)(14.4,5.8)(14.4,5.2)(14.4,4.6)(14.4,4.0)(14.4,3.4)(14.4,2.8)(14.4,2.2)(14.4,1.6)(14.4,1.0)(14.4,0.4)
(14.65,8.0)(14.65,6.0)(14.65,4.0)(14.65,2.0)(14.65,0.5)
(15.2,18.5)(15.2,16.8)(15.2,15.3)(15.2,14.0)(15.2,13.0)(15.2,12.5)(15.2,11.5)(15.2,10.5)(15.2,9.5)(15.2,7.5)
(21.7,5.7)(21.7,5.0)(21.7,4.5)(21.7,4.0)(21.7,3.5)(21.7,3.0)(21.7,2.5)};
\node[plab] at (rel axis cs:0.057,0.85) {SST\LT 15};
\end{axis}
\end{tikzpicture}
\end{document}
